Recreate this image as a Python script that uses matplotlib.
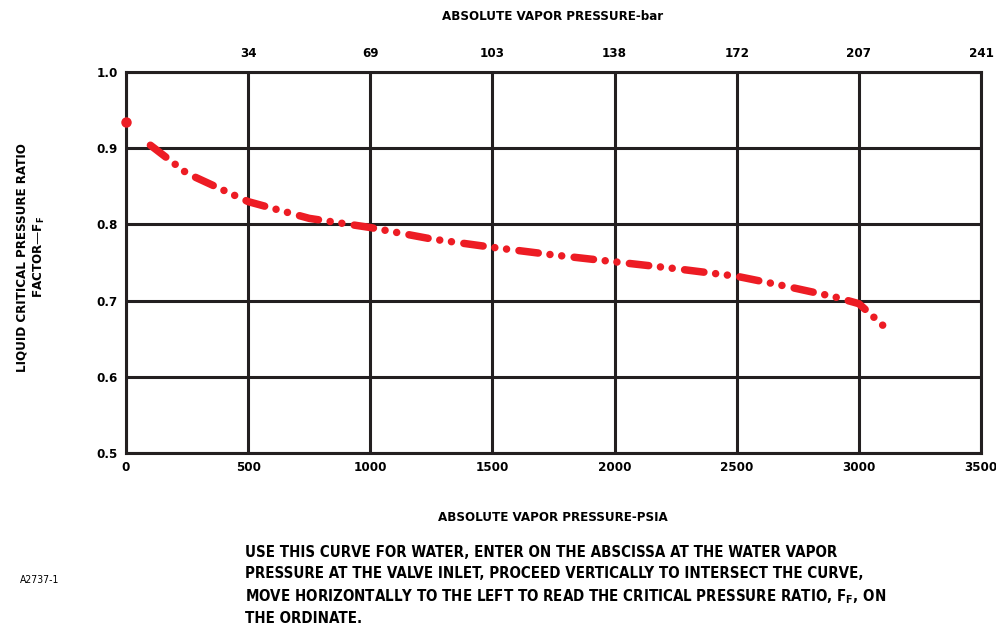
import matplotlib
matplotlib.use("Agg")
import matplotlib.pyplot as plt

plt.rcParams['font.family'] = ['DejaVu Sans']
plt.rcParams['font.stretch'] = 'condensed'
plt.rcParams['font.weight'] = 'bold'
plt.rcParams['lines.scale_dashes'] = False

psia = [0, 100, 250, 500, 750, 1000, 1250, 1500, 1750, 2000, 2250, 2500, 2700, 2900, 3000, 3100]
ff = [0.935, 0.904, 0.867, 0.830, 0.808, 0.796, 0.781, 0.770, 0.760, 0.751, 0.742, 0.732, 0.719, 0.705, 0.696, 0.667]

psia_ticks = [0, 500, 1000, 1500, 2000, 2500, 3000, 3500]
bar_labels = ["34", "69", "103", "138", "172", "207", "241"]
ff_ticks = [0.5, 0.6, 0.7, 0.8, 0.9, 1.0]

fig = plt.figure(figsize=(9.96, 6.27), dpi=100)
ax = fig.add_axes([0.1265, 0.2775, 0.8585, 0.6075])

ax.set_xlim(0, 3500)
ax.set_ylim(0.5, 1.0)
ax.set_xticks(psia_ticks)
ax.set_yticks(ff_ticks)
ax.set_yticklabels(["%.1f" % v for v in ff_ticks])
ax.tick_params(length=0, labelsize=9.5, pad=6)
ax.grid(True, color="#231f20", linewidth=2.2)
for s in ax.spines.values():
    s.set_linewidth(2.2)
    s.set_color("#231f20")

red = "#ed1c24"
ax.plot(psia[1:], ff[1:], color=red, linewidth=5.4,
        linestyle=(0, (14, 8.5, 0.01, 8.5, 0.01, 9)),
        dash_capstyle='round', solid_capstyle='round', zorder=5, clip_on=False)
ax.plot(psia[:1], ff[:1], 'o', color=red, markersize=6.5, zorder=5, clip_on=False)

ax2 = ax.twiny()
ax2.set_xlim(ax.get_xlim())
ax2.set_xticks(psia_ticks[1:])
ax2.set_xticklabels(bar_labels)
ax2.tick_params(length=0, labelsize=9.5, pad=9)
for s in ax2.spines.values():
    s.set_visible(False)

fig.text(0.555, 0.973, "ABSOLUTE VAPOR PRESSURE-bar", ha="center", va="center", fontsize=9.5)
fig.text(0.555, 0.175, "ABSOLUTE VAPOR PRESSURE-PSIA", ha="center", va="center", fontsize=9.5)
fig.text(0.031, 0.59, "LIQUID CRITICAL PRESSURE RATIO\nFACTOR\u2014F$_\\mathregular{F}$",
         ha="center", va="center", rotation=90, fontsize=9.5, linespacing=1.3)

note = ("USE THIS CURVE FOR WATER, ENTER ON THE ABSCISSA AT THE WATER VAPOR\n"
        "PRESSURE AT THE VALVE INLET, PROCEED VERTICALLY TO INTERSECT THE CURVE,\n"
        "MOVE HORIZONTALLY TO THE LEFT TO READ THE CRITICAL PRESSURE RATIO, F$_\\mathregular{F}$, ON\n"
        "THE ORDINATE.")
fig.text(0.246, 0.066, note, ha="left", va="center", fontsize=10.8, linespacing=1.45)
fig.text(0.02, 0.075, "A2737-1", ha="left", va="center", fontsize=7.5, fontweight="normal")

fig.savefig("out.png", dpi=100)
